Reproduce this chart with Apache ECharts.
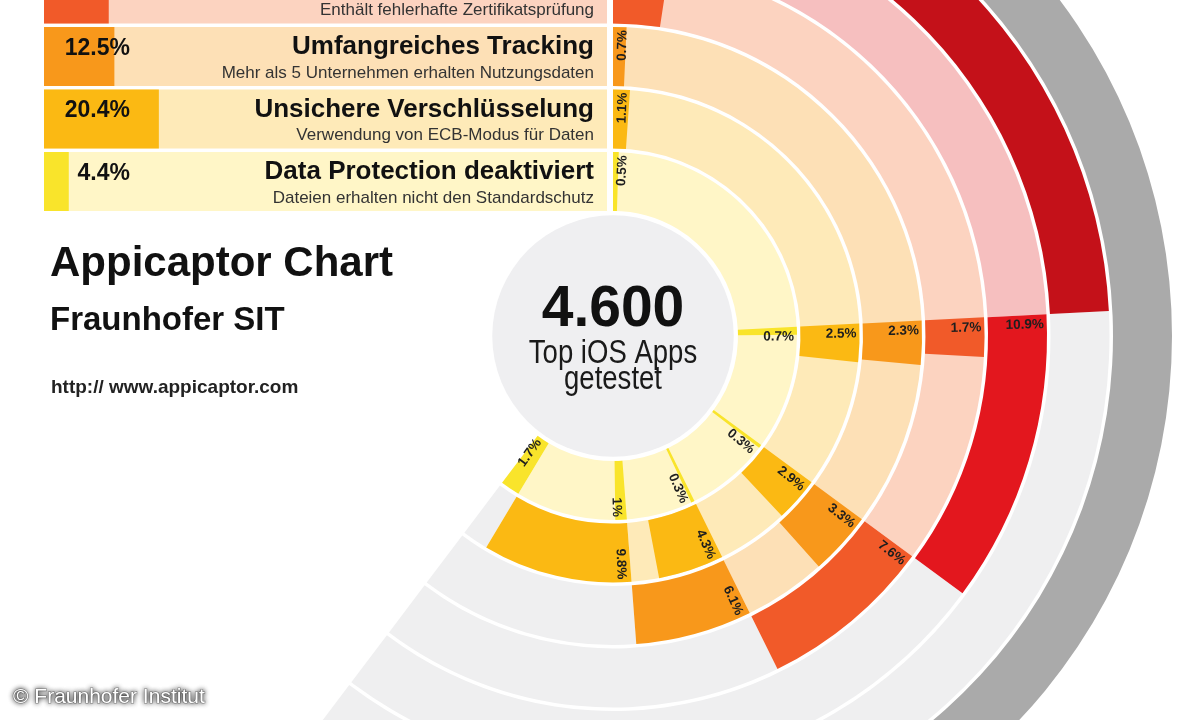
<!DOCTYPE html>
<html>
<head>
<meta charset="utf-8">
<script src="https://cdn.jsdelivr.net/npm/echarts@6/dist/echarts.min.js"></script>
<style>html,body{margin:0;padding:0;background:#fff}#c{width:1200px;height:720px}</style>
</head>
<body>
<div id="c"></div>
<script>
// ---------------- data ----------------
// legend rows (one per ring, innermost first)
const rowTitles = ['Data Protection deaktiviert', 'Unsichere Verschlüsselung', 'Umfangreiches Tracking', ''];
const rowSubtitles = ['Dateien erhalten nicht den Standardschutz', 'Verwendung von ECB-Modus für Daten', 'Mehr als 5 Unternehmen erhalten Nutzungsdaten', 'Enthält fehlerhafte Zertifikatsprüfung'];
const rowValues = [4.4, 20.4, 12.5, 11.5];
const rowTotals = [100, 100, 100, 100];

// overlap groups placed clockwise from 12 o'clock; ring index (0 = innermost) and share of apps in %
const groupRings = [[0, 1, 2, 3, 5], [0, 1, 2, 3, 4], [0, 1, 2, 3], [0, 1, 2], [0, 1], [0]];
const groupValues = [[0.5, 1.1, 0.7, 2.4, 24.2], [0.7, 2.5, 2.3, 1.7, 10.9], [0.3, 2.9, 3.3, 7.6], [0.3, 4.3, 6.1], [1, 9.8], [1.7]];

const centerCount = '4.600';
const centerLines = ['Top iOS Apps', 'getestet'];

// ---------------- styles ----------------
const FONT = '"Liberation Sans", Arial, Helvetica, sans-serif';
const strongColors = ['#f9e42b', '#fbb913', '#f8981b', '#f15a29', '#e3171e', '#c41119', '#aaaaaa'];
const paleColors = ['#fff6c7', '#feeab8', '#fde0b6', '#fcd3c0', '#f6bfbf', '#f6bfbf', '#aaaaaa'];
const greyColor = '#efeff0';
const RING_COUNT = 7;
const GAP = 0.028;

// ---------------- build arcs ----------------
const groupStarts = [];
let acc = 0;
groupValues.forEach(function (vals) { groupStarts.push(acc); acc += vals[vals.length - 1]; });
const ringEnd = acc;

const arcs = [], arcColors = [];
const labels = [], labelTexts = [];
function addArc(ring, s, e, color) {
  if (e - s <= 0) return;
  arcs.push([ring, s, e]);
  arcColors.push(color);
}
// backgrounds
for (let ring = 0; ring < RING_COUNT - 1; ring++) {
  let g = -1;
  groupRings.forEach(function (rs, gi) { if (rs[rs.length - 1] === ring) g = gi; });
  const paleEnd = groupStarts[g];
  const segEnd = groupStarts[g] + groupValues[g][groupValues[g].length - 1];
  addArc(ring, 0, paleEnd, paleColors[ring]);
  addArc(ring, segEnd, ringEnd, greyColor);
}
addArc(RING_COUNT - 1, 0, ringEnd, strongColors[RING_COUNT - 1]);
// coloured segments
groupRings.forEach(function (rs, g) {
  rs.forEach(function (ring, i) {
    const v = groupValues[g][i];
    addArc(ring, groupStarts[g], groupStarts[g] + v, strongColors[ring]);
    if (ring !== 5) {
      labels.push([ring, groupStarts[g]]);
      labelTexts.push(v + '%');
    }
  });
});

// ---------------- render helpers ----------------
function polarInfo(params, api, ring, val) {
  const cx = params.coordSys.cx, cy = params.coordSys.cy;
  const p = api.coord([ring, val]);
  const dx = p[0] - cx, dy = p[1] - cy;
  return { r: Math.sqrt(dx * dx + dy * dy), screenAngle: Math.atan2(dy, dx), cx: cx, cy: cy };
}
function renderArc(params, api) {
  const ring = api.value(0), s = api.value(1), e = api.value(2);
  const a = polarInfo(params, api, ring + GAP, s);
  const b = polarInfo(params, api, ring + 1 - GAP, e);
  return {
    type: 'sector',
    shape: { cx: a.cx, cy: a.cy, r0: a.r, r: b.r, startAngle: a.screenAngle, endAngle: b.screenAngle, clockwise: true },
    style: { fill: arcColors[params.dataIndex] }
  };
}
function renderLabel(params, api) {
  const ring = api.value(0), s = api.value(1);
  const inner = polarInfo(params, api, ring + GAP, s);
  const outer = polarInfo(params, api, ring + 1 - GAP, s);
  const ang = -inner.screenAngle; // math angle
  const flip = ang < -Math.PI / 2;
  const ra = flip ? inner.r + 3 : outer.r - 3;
  const a2 = ang - 10 / ra;
  return {
    type: 'text',
    x: inner.cx + ra * Math.cos(a2),
    y: inner.cy - ra * Math.sin(a2),
    rotation: flip ? a2 + Math.PI : a2,
    style: {
      text: labelTexts[params.dataIndex],
      x: 0, y: 0,
      fill: '#1e1e1e',
      font: 'bold 13.5px ' + FONT,
      align: 'right', textAlign: 'right',
      verticalAlign: 'middle', textVerticalAlign: 'middle'
    }
  };
}
function centerText(x, y, text, font, color, sx) {
  return { type: 'text', x: x, y: y, scaleX: sx, style: { text: text, x: 0, y: 0, fill: color, font: font,
    align: 'center', textAlign: 'center', verticalAlign: 'middle', textVerticalAlign: 'middle' } };
}
function renderCenter(params, api) {
  const p = polarInfo(params, api, 0, 0);
  const cx = p.cx, cy = p.cy;
  return {
    type: 'group',
    children: [
      { type: 'circle', shape: { cx: cx, cy: cy, r: p.r - 2.5 }, style: { fill: '#efeff1' } },
      centerText(cx, cy - 25.5, centerCount, 'bold 57px ' + FONT, '#111', 1),
      centerText(cx, cy + 17.5, centerLines[0], '34px ' + FONT, '#1a1a1a', 0.81),
      centerText(cx, cy + 44, centerLines[1], '34px ' + FONT, '#1a1a1a', 0.81)
    ]
  };
}

// ---------------- chart ----------------
const chart = echarts.init(document.getElementById('c'), null, { renderer: 'canvas' });
const titleStyle = function (size, weight, color) {
  return { fontFamily: FONT, fontSize: size, fontWeight: weight, color: color };
};
chart.setOption({
  animation: false,
  backgroundColor: '#ffffff',
  title: [
    { text: 'Appicaptor Chart', left: 50, top: 243, padding: 0, textStyle: titleStyle(42, 'bold', '#111') },
    { text: 'Fraunhofer SIT', left: 50, top: 304, padding: 0, textStyle: titleStyle(33, 'bold', '#111') },
    { text: 'http:// www.appicaptor.com', left: 51, top: 378, padding: 0, textStyle: titleStyle(19, 'bold', '#222') },
    { text: '© Fraunhofer Institut', left: 13, top: 687, padding: 0,
      textStyle: { fontFamily: FONT, fontSize: 21, fontWeight: 'normal', color: '#ffffff',
        textBorderColor: 'rgba(80,80,80,0.55)', textBorderWidth: 1.2,
        textShadowColor: 'rgba(0,0,0,0.85)', textShadowBlur: 5 } }
  ],
  polar: { center: [613, 336], radius: [123.25, 560.75] },
  angleAxis: { type: 'value', min: 0, max: 100, startAngle: 90, clockwise: true, show: false },
  radiusAxis: { type: 'value', min: 0, max: RING_COUNT, show: false },
  grid: { left: 44, width: 563, top: -37.25, height: 250, containLabel: false, outerBoundsMode: 'none' },
  xAxis: { type: 'value', min: 0, max: 100, show: false },
  yAxis: { type: 'category', data: rowSubtitles, show: false },
  series: [
    {
      type: 'bar', xAxisIndex: 0, yAxisIndex: 0, barWidth: 59, barGap: '-100%', silent: true,
      data: rowTotals.map(function (v, i) { return { value: v, itemStyle: { color: paleColors[i] } }; }),
      label: { show: true, position: [550, 20], align: 'right', verticalAlign: 'middle',
        formatter: function (p) { return rowTitles[p.dataIndex]; },
        fontFamily: FONT, fontSize: 26, fontWeight: 'bold', color: '#111' }
    },
    {
      type: 'bar', xAxisIndex: 0, yAxisIndex: 0, barWidth: 59, barGap: '-100%', silent: true,
      data: rowValues.map(function (v, i) {
        return { value: v, itemStyle: { color: strongColors[i] }, label: { show: i < 3 } };
      }),
      label: { show: true, position: [86, 21.5], align: 'right', verticalAlign: 'middle',
        formatter: function (p) { return p.value + '%'; },
        fontFamily: FONT, fontSize: 23, fontWeight: 'bold', color: '#111' }
    },
    {
      type: 'bar', xAxisIndex: 0, yAxisIndex: 0, barWidth: 59, barGap: '-100%', silent: true,
      data: rowTotals, itemStyle: { color: 'rgba(0,0,0,0)' },
      label: { show: true, position: [550, 46], align: 'right', verticalAlign: 'middle',
        formatter: function (p) { return rowSubtitles[p.dataIndex]; },
        fontFamily: FONT, fontSize: 17, fontWeight: 'normal', color: '#333' }
    },
    { type: 'custom', coordinateSystem: 'polar', polarIndex: 0, silent: true, data: arcs, renderItem: renderArc, z: 2 },
    { type: 'custom', coordinateSystem: 'polar', polarIndex: 0, silent: true, data: [[0, 0]], renderItem: renderCenter, z: 3 },
    { type: 'custom', coordinateSystem: 'polar', polarIndex: 0, silent: true, data: labels, renderItem: renderLabel, z: 4 }
  ]
});
</script>
</body>
</html>
